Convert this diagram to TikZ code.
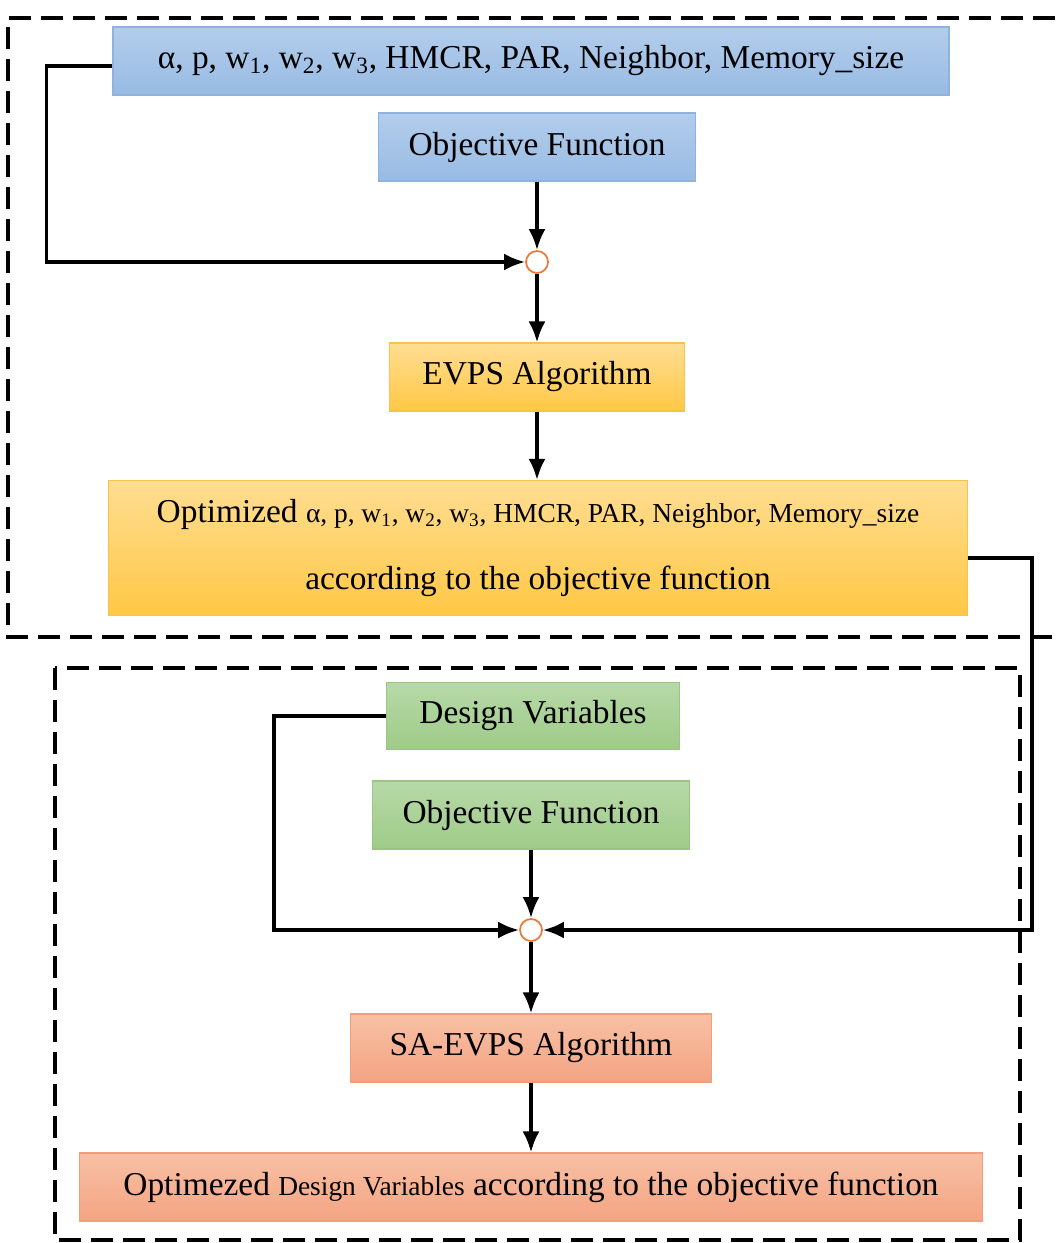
\documentclass[tikz,border=0pt]{standalone}
\usepackage{fontspec}
\setmainfont{Liberation Serif}
\usepackage{xcolor}
\usetikzlibrary{arrows.meta, shapes.geometric, calc, positioning}
\definecolor{bluefillA}{HTML}{B3CDEC}
\definecolor{bluefillB}{HTML}{98BBE3}
\definecolor{bluedraw}{HTML}{8FB3DD}
\definecolor{yelfillA}{HTML}{FFDD92}
\definecolor{yelfillB}{HTML}{FFC845}
\definecolor{yeldraw}{HTML}{F8C34A}
\definecolor{grnfillA}{HTML}{B7D9A8}
\definecolor{grnfillB}{HTML}{9FCB88}
\definecolor{grndraw}{HTML}{9BC585}
\definecolor{redfillA}{HTML}{F8C0A5}
\definecolor{redfillB}{HTML}{F4A482}
\definecolor{reddraw}{HTML}{F09F7A}
\definecolor{sumdraw}{HTML}{E97A3A}
\tikzset{
  % Graph arrow style
  garr/.style={
    line width = 2pt, -{Latex[length=4.2mm,width=3.4mm]}
  },
  frame/.style={line width = 2.2pt, dash pattern=on 4.4mm off 2mm},
  blk/.style={draw, line width=0.6pt, anchor=center, align=center,
    inner sep=0pt, font=\fontsize{19}{22}\selectfont},
  bluebox/.style={blk, draw=bluedraw, top color=bluefillA, bottom color=bluefillB},
  yelbox/.style={blk, draw=yeldraw, top color=yelfillA, bottom color=yelfillB},
  grnbox/.style={blk, draw=grndraw, top color=grnfillA, bottom color=grnfillB},
  redbox/.style={blk, draw=reddraw, top color=redfillA, bottom color=redfillB},
  sumpt/.style={circle, draw=sumdraw, fill=white, line width=1pt,
    inner sep=0pt, minimum size=4.4mm},
}
\newcommand{\smalltxt}{\fontsize{15.6}{18}\selectfont}
\newcommand{\paramlist}{α, p, w\textsubscript{1}, w\textsubscript{2}, w\textsubscript{3}, HMCR, PAR, Neighbor, Memory\_size}

\begin{document}
\begin{tikzpicture}[x=0.2mm, y=-0.2mm]
  \useasboundingbox (0,0) rectangle (1055,1243);

  % upper frame (runs off to the right)
  \draw[frame] (1055,18) -- (8,18) -- (8,637) -- (1055,637);
  % lower frame
  \draw[frame] (55,668) rectangle (1020,1240);

  % upper part
  \node[bluebox, minimum width=167.2mm, minimum height=13.6mm] (pars) at (531,61) {\paramlist};
  \node[bluebox, minimum width=63.4mm, minimum height=13.6mm] (obj1) at (537,147) {Objective Function};
  \node[sumpt] (c1) at (537,262) {};
  \node[yelbox, minimum width=59mm, minimum height=13.6mm] (evps) at (537,377) {EVPS Algorithm};
  \node[yelbox, minimum width=171.8mm, minimum height=27mm] (opt) at (538,548)
    {Optimized {\smalltxt \paramlist}\\[5.5mm] according to the objective function};

  % lower part
  \node[grnbox, minimum width=58.6mm, minimum height=13.4mm] (dv) at (533,716) {Design Variables};
  \node[grnbox, minimum width=63.4mm, minimum height=13.6mm] (obj2) at (531,815) {Objective Function};
  \node[sumpt] (c2) at (531,930) {};
  \node[redbox, minimum width=72.2mm, minimum height=13.6mm] (sa) at (531,1048) {SA-EVPS Algorithm};
  \node[redbox, minimum width=180.6mm, minimum height=13.6mm] (fin) at (531,1187)
    {Optimezed {\smalltxt Design Variables} according to the objective function};

  \draw[garr] ([yshift=-1mm]pars.west) -- ++(-66,0) |- (c1.west);
  \draw[garr] (obj1.south) -- (c1.north);
  \draw[garr] (c1.south) -- (evps.north);
  \draw[garr] (evps.south) -- (evps.south |- opt.north);
  \draw[garr] ([yshift=-2mm]opt.east) -- ++(64,0) |- (c2.east);

  \draw[garr] (dv.west) -- ++(-112,0) |- (c2.west);
  \draw[garr] (obj2.south) -- (c2.north);
  \draw[garr] (c2.south) -- (sa.north);
  \draw[garr] (sa.south) -- (fin.north);
\end{tikzpicture}
\end{document}
